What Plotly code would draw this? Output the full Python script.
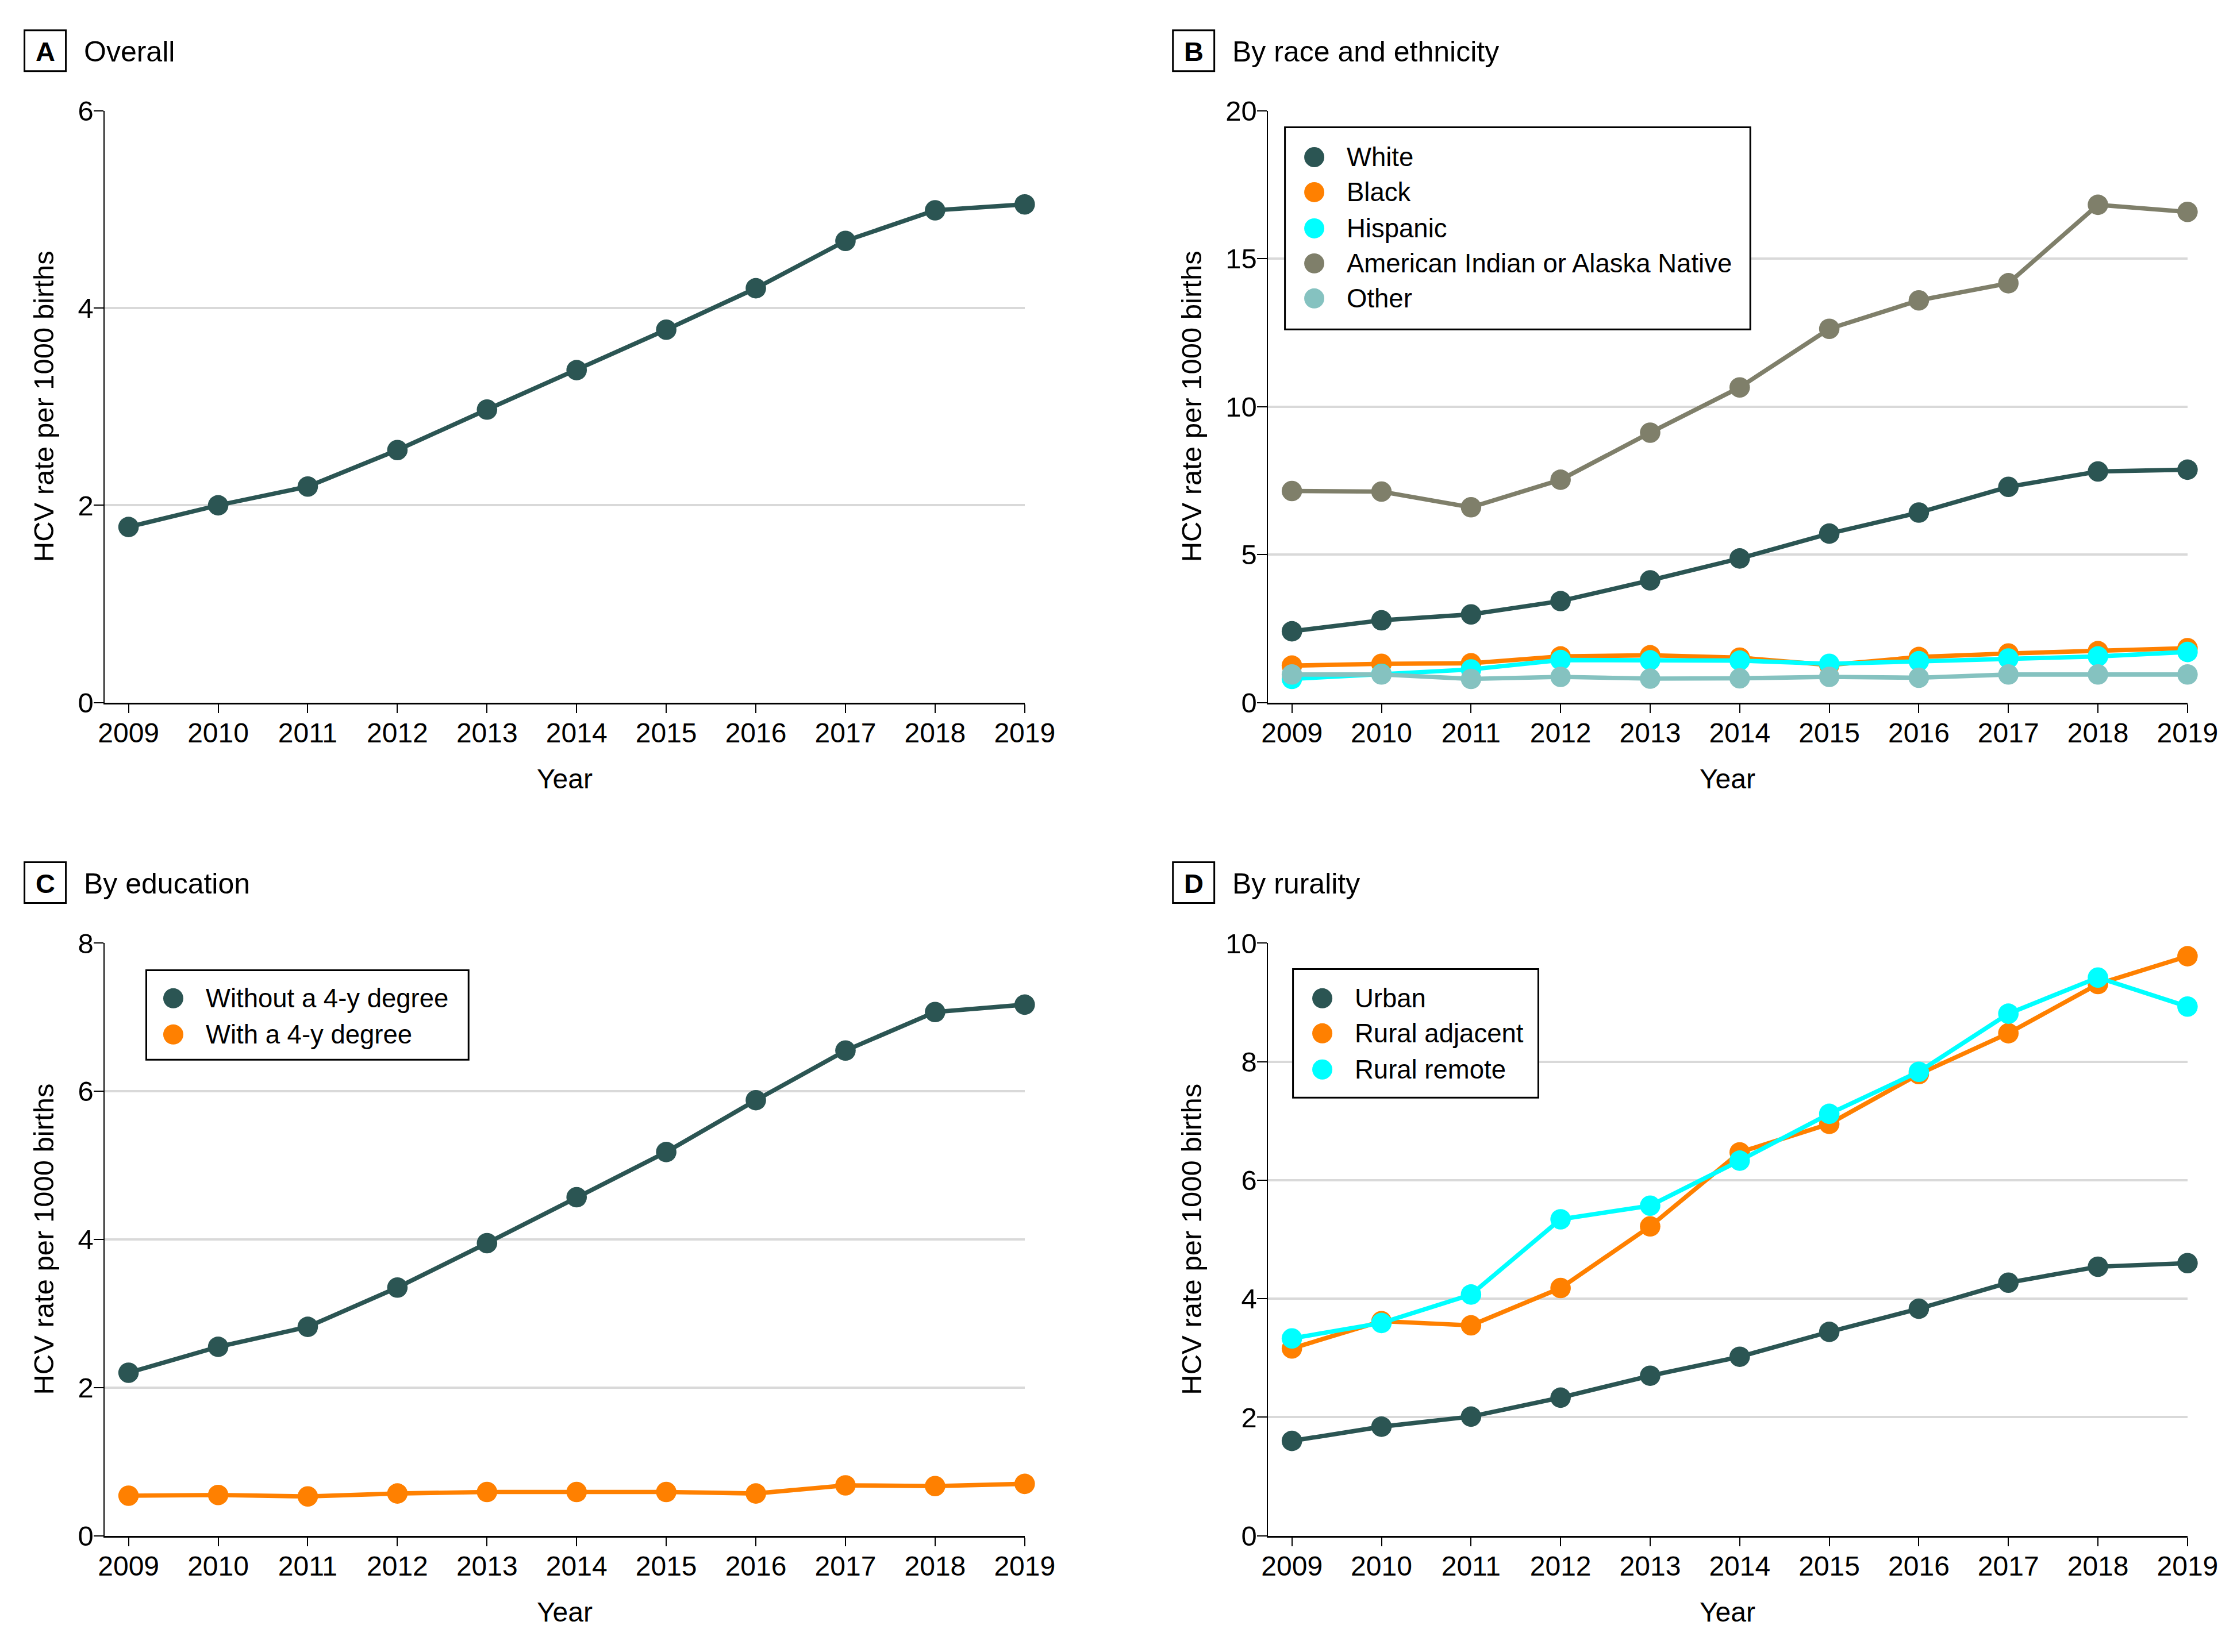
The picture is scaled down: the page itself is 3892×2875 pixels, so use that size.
import plotly.graph_objects as go

W, H = 3892, 2875

years = list(range(2009, 2020))
year_ticks = [str(y) for y in years]

overall = [1.78, 2.00, 2.19, 2.56, 2.97, 3.37, 3.78, 4.20, 4.68, 4.99, 5.05]

race_white = [2.41, 2.78, 2.98, 3.43, 4.13, 4.87, 5.71, 6.42, 7.29, 7.81, 7.87]
race_black = [1.25, 1.31, 1.33, 1.56, 1.60, 1.52, 1.27, 1.54, 1.66, 1.74, 1.84]
race_hispanic = [0.80, 0.97, 1.12, 1.44, 1.43, 1.42, 1.31, 1.40, 1.49, 1.56, 1.71]
race_aian = [7.15, 7.13, 6.60, 7.53, 9.12, 10.65, 12.63, 13.59, 14.17, 16.82, 16.58]
race_other = [0.95, 0.95, 0.80, 0.87, 0.81, 0.82, 0.87, 0.84, 0.95, 0.95, 0.95]

edu_without = [2.20, 2.55, 2.82, 3.35, 3.95, 4.57, 5.18, 5.88, 6.55, 7.07, 7.17]
edu_with = [0.54, 0.55, 0.53, 0.57, 0.59, 0.59, 0.59, 0.57, 0.68, 0.67, 0.70]

rur_urban = [1.60, 1.84, 2.01, 2.33, 2.70, 3.02, 3.44, 3.83, 4.27, 4.54, 4.60]
rur_adjacent = [3.16, 3.62, 3.55, 4.18, 5.22, 6.47, 6.95, 7.79, 8.48, 9.31, 9.78]
rur_remote = [3.33, 3.59, 4.07, 5.34, 5.57, 6.33, 7.12, 7.83, 8.81, 9.42, 8.93]

panel_letters = ["A", "B", "C", "D"]
panel_titles = ["Overall", "By race and ethnicity", "By education", "By rurality"]
y_title = "HCV rate per 1000 births"
x_title = "Year"

C_TEAL = "#2b5553"
C_ORANGE = "#ff8000"
C_CYAN = "#00ffff"
C_OLIVE = "#7f7f6a"
C_GRAYTEAL = "#85c2c0"

FONT = "Liberation Sans, Arial, sans-serif"

# the page photograph maps figure pixels p to picture pixels O + S*p;
# positions below are given in picture pixels and converted back.
SX, SY = 0.984, 0.982
OX, OY = 17.4, 33.3
K = 1 / 0.983  # size compensation


def X(tx):
    return ((tx - OX) / SX) / W


def Y(ty):
    return 1 - ((ty - OY) / SY) / H


panels = [
    ("x", "y", [("Overall", overall, C_TEAL)], 6, 2),
    ("x2", "y2", [("White", race_white, C_TEAL), ("Black", race_black, C_ORANGE),
                  ("Hispanic", race_hispanic, C_CYAN),
                  ("American Indian or Alaska Native", race_aian, C_OLIVE),
                  ("Other", race_other, C_GRAYTEAL)], 20, 5),
    ("x3", "y3", [("Without a 4-y degree", edu_without, C_TEAL),
                  ("With a 4-y degree", edu_with, C_ORANGE)], 8, 2),
    ("x4", "y4", [("Urban", rur_urban, C_TEAL), ("Rural adjacent", rur_adjacent, C_ORANGE),
                  ("Rural remote", rur_remote, C_CYAN)], 10, 2),
]

x_doms = [(180, 1782), (2205, 3806), (180, 1782), (2205, 3806)]
y_doms = [(191, 1222), (191, 1222), (1641, 2673), (1641, 2673)]

fig = go.Figure()

for (xa, ya, series, ymax, dt) in panels:
    for name, vals, col in series:
        fig.add_trace(go.Scatter(
            x=years, y=vals, name=name, mode="lines+markers",
            xaxis=xa, yaxis=ya, showlegend=False, cliponaxis=False,
            line=dict(color=col, width=7.5 * K),
            marker=dict(color=col, size=35 * K),
        ))

layout = dict(
    width=W, height=H, margin=dict(l=0, r=0, t=0, b=0),
    paper_bgcolor="white", plot_bgcolor="white",
    font=dict(family=FONT, size=48, color="black"),
    showlegend=False,
)

for i, (xa, ya, series, ymax, dt) in enumerate(panels):
    xk = "xaxis" if xa == "x" else "xaxis" + xa[1:]
    yk = "yaxis" if ya == "y" else "yaxis" + ya[1:]
    x0, x1 = x_doms[i]
    y0, y1 = y_doms[i]
    layout[xk] = dict(
        domain=[X(x0), X(x1)], anchor=ya, range=[2008.73, 2019],
        tickvals=years, ticktext=year_ticks, ticks="outside", ticklen=15,
        tickwidth=2, tickcolor="black", showline=True, linecolor="black",
        linewidth=3, showgrid=False, zeroline=False, ticklabelstandoff=-6,
        tickfont=dict(family=FONT, size=48),
    )
    layout[yk] = dict(
        domain=[Y(y1), Y(y0)], anchor=xa, range=[0, ymax], dtick=dt, tick0=0,
        ticks="outside", ticklen=17, tickwidth=2, tickcolor="black",
        showline=True, linecolor="black", linewidth=2, showgrid=True,
        gridcolor="#d9d9d9", gridwidth=4, zeroline=False, ticklabelstandoff=-10,
        tickfont=dict(family=FONT, size=49),
    )

fig.update_layout(**layout)

shapes = []
annotations = []

title_pos = [(41, 51), (2040, 51), (41, 1500), (2040, 1500)]
for i, (bx, by) in enumerate(title_pos):
    shapes.append(dict(type="rect", xref="paper", yref="paper",
                       x0=X(bx), x1=X(bx + 72), y0=Y(by + 71), y1=Y(by),
                       line=dict(color="black", width=3), fillcolor="white"))
    annotations.append(dict(text="<b>%s</b>" % panel_letters[i], xref="paper", yref="paper",
                            x=X(bx + 36), y=Y(by + 37), xanchor="center", yanchor="middle",
                            showarrow=False, font=dict(family=FONT, size=47, color="black")))
    annotations.append(dict(text=panel_titles[i], xref="paper", yref="paper",
                            x=X(bx + 101), y=Y(by + 37), xanchor="left", yanchor="middle",
                            showarrow=False, font=dict(family=FONT, size=50, color="black")))

for i in range(4):
    x0, x1 = x_doms[i]
    y0, y1 = y_doms[i]
    ytx = 74 if i in (0, 2) else 2072
    annotations.append(dict(text=y_title, xref="paper", yref="paper",
                            x=X(ytx), y=Y((y0 + y1) / 2), textangle=-90,
                            xanchor="center", yanchor="middle", showarrow=False,
                            font=dict(family=FONT, size=49, color="black")))
    annotations.append(dict(text=x_title, xref="paper", yref="paper",
                            x=X((x0 + x1) / 2), y=Y(y1 + 133), xanchor="center",
                            yanchor="middle", showarrow=False,
                            font=dict(family=FONT, size=48, color="black")))

legends = [
    (1, (2235, 220, 3045, 572), [272, 333, 396, 457, 518], 2286, 2340),
    (2, (253, 1688, 814, 1844), [1737, 1800], 300, 355),
    (3, (2249, 1686, 2676, 1910), [1737, 1798, 1861], 2300, 2354),
]
for pi, (lx0, ly0, lx1, ly1), rows, mcx, tx in legends:
    shapes.append(dict(type="rect", xref="paper", yref="paper",
                       x0=X(lx0), x1=X(lx1), y0=Y(ly1), y1=Y(ly0),
                       line=dict(color="black", width=3), fillcolor="white"))
    for (name, vals, col), ry in zip(panels[pi][2], rows):
        r = 17.5
        shapes.append(dict(type="circle", xref="paper", yref="paper",
                           x0=X(mcx - r), x1=X(mcx + r), y0=Y(ry + r), y1=Y(ry - r),
                           line=dict(color=col, width=0), fillcolor=col))
        annotations.append(dict(text=name, xref="paper", yref="paper",
                                x=X(tx), y=Y(ry), xanchor="left", yanchor="middle",
                                showarrow=False, font=dict(family=FONT, size=45.5, color="black")))

fig.update_layout(shapes=shapes, annotations=annotations)

fig.write_html("out.html")
